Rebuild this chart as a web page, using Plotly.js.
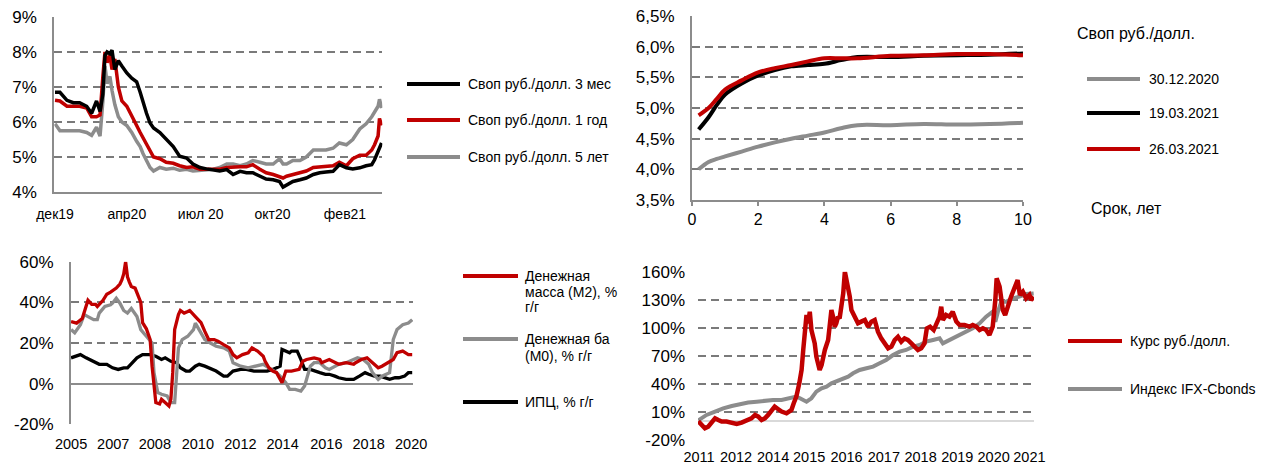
<!DOCTYPE html>
<html><head><meta charset="utf-8">
<script src="https://cdn.plot.ly/plotly-3.0.1.min.js"></script>
<style>html,body{margin:0;padding:0;background:#fff}#chart{width:1267px;height:470px}</style>
</head><body><div id="chart"></div>
<script>
// ---------- Panel 1: swap rates history ----------
const swapDates = ["2019-12-17","2019-12-24","2020-01-03","2020-01-12","2020-01-21","2020-01-31","2020-02-07","2020-02-14","2020-02-19","2020-02-23","2020-02-26","2020-02-29","2020-03-04","2020-03-07","2020-03-11","2020-03-16","2020-03-21","2020-03-28","2020-04-04","2020-04-11","2020-04-16","2020-04-20","2020-04-25","2020-04-30","2020-05-05","2020-05-14","2020-05-23","2020-06-02","2020-06-11","2020-06-21","2020-06-30","2020-07-10","2020-07-19","2020-07-29","2020-08-07","2020-08-17","2020-08-26","2020-09-05","2020-09-14","2020-09-23","2020-10-03","2020-10-12","2020-10-22","2020-10-31","2020-11-05","2020-11-10","2020-11-19","2020-11-29","2020-12-08","2020-12-18","2020-12-27","2021-01-05","2021-01-15","2021-01-24","2021-02-03","2021-02-12","2021-02-22","2021-03-03","2021-03-11","2021-03-15","2021-03-20","2021-03-22","2021-03-25"];
const swap3m = [6.85,6.85,6.62,6.55,6.55,6.45,6.25,6.6,6.3,6.8,7.9,8.0,7.95,8.05,7.5,7.75,7.6,7.4,7.25,7.15,6.85,6.55,6.25,5.97,5.83,5.7,5.5,5.3,5.02,4.97,4.8,4.7,4.66,4.64,4.6,4.64,4.5,4.59,4.55,4.55,4.45,4.37,4.35,4.3,4.14,4.2,4.3,4.35,4.4,4.5,4.55,4.57,4.59,4.78,4.69,4.66,4.69,4.75,4.78,4.92,5.16,5.3,5.4];
const swap1y = [6.62,6.6,6.45,6.45,6.45,6.4,6.15,6.15,6.2,7.3,8.0,7.7,7.9,7.5,7.8,7.0,6.6,6.45,6.2,5.9,5.7,5.55,5.35,5.15,5.0,4.95,4.85,4.82,4.75,4.7,4.72,4.65,4.65,4.64,4.65,4.7,4.72,4.72,4.72,4.78,4.65,4.55,4.5,4.45,4.4,4.45,4.5,4.55,4.6,4.7,4.72,4.72,4.75,4.85,4.75,4.95,5.05,5.05,5.2,5.35,5.6,6.1,5.9];
const swap5y = [5.95,5.75,5.75,5.75,5.75,5.7,5.62,5.85,5.6,6.6,7.6,7.1,7.3,6.9,6.5,6.15,6.0,5.9,5.7,5.45,5.3,5.1,4.9,4.7,4.6,4.7,4.65,4.68,4.62,4.65,4.6,4.62,4.65,4.65,4.7,4.8,4.8,4.75,4.8,4.9,4.85,4.8,4.8,4.95,4.8,4.8,4.9,4.9,5.0,5.2,5.2,5.2,5.25,5.4,5.35,5.5,5.8,5.95,6.15,6.3,6.45,6.65,6.4];
const swapTickDates = ["2019-12-17","2020-03-28","2020-07-11","2020-10-21","2021-02-01"];
const swapTickLabels = ["дек19","апр20","июл 20","окт20","фев21"];
const swapYTicks = [4,5,6,7,8,9];
const swapNames = ["Своп руб./долл. 3 мес","Своп руб./долл. 1 год","Своп руб./долл. 5 лет"];

// ---------- Panel 2: swap curves ----------
const tenors = [0.2,0.5,0.75,1,1.5,2,2.5,3,3.5,4,4.5,5,6,7,8,9,10];
const curve301220 = [4.0,4.12,4.17,4.21,4.29,4.37,4.44,4.5,4.55,4.6,4.67,4.72,4.72,4.74,4.73,4.74,4.76];
const curve190321 = [4.65,4.85,5.05,5.22,5.4,5.53,5.62,5.68,5.7,5.72,5.78,5.83,5.83,5.85,5.86,5.87,5.89];
const curve260321 = [4.88,5.0,5.15,5.3,5.45,5.58,5.65,5.7,5.76,5.81,5.81,5.81,5.85,5.86,5.88,5.88,5.86];
const curveNames = ["30.12.2020","19.03.2021","26.03.2021"];
const curveYTicks = [3.5,4,4.5,5,5.5,6,6.5];
const curveXTicks = [0,2,4,6,8,10];

// ---------- Panel 3: money supply and CPI ----------
const m2Dates = ["2005-01","2005-04","2005-07","2005-09","2005-10","2005-12","2006-02","2006-03","2006-04","2006-06","2006-08","2006-10","2007-01","2007-03","2007-04","2007-05","2007-06","2007-07","2007-08","2007-09","2007-11","2007-12","2008-02","2008-03","2008-05","2008-07","2008-08","2008-10","2008-12","2009-01","2009-03","2009-05","2009-06","2009-07","2009-08","2009-10","2009-11","2010-01","2010-03","2010-04","2010-07","2010-10","2010-12","2011-02","2011-05","2011-07","2011-10","2012-01","2012-03","2012-05","2012-08","2012-11","2013-01","2013-04","2013-07","2013-08","2013-10","2013-12","2014-02","2014-03","2014-05","2014-07","2014-10","2015-02","2015-04","2015-06","2015-10","2016-01","2016-02","2016-06","2016-09","2016-11","2017-03","2017-07","2017-08","2017-11","2018-02","2018-05","2018-08","2018-10","2019-01","2019-04","2019-06","2019-09","2019-12","2020-02"];
const m2Growth = [30.6,29.8,32,38,41,39,39,38,39,41,44,45,47,49,51,54,60,52.6,50,47.8,47,45,40,30,27,21.7,8.6,-9.3,-10,-7.7,-9.3,-11,-7.7,5.4,26.6,34,36,34.7,35.5,36,33,30,25.7,21.7,21.7,20.9,19.2,17.6,14.3,12.7,14.3,15.2,17.6,16,13.5,11,7.8,6.2,5.4,3.7,0.5,6.2,6.2,7,11,11.9,12.7,11.9,10.3,11.9,10.3,9.5,10.3,9.5,10.3,11.9,12.7,10.3,7.8,8.6,10.3,11.9,15.2,16,14.3,14.3];
const m0Dates = ["2005-01","2005-03","2005-06","2005-08","2005-10","2006-01","2006-03","2006-04","2006-07","2006-10","2006-11","2007-01","2007-03","2007-05","2007-07","2007-09","2007-12","2008-02","2008-05","2008-08","2008-09","2008-11","2009-01","2009-04","2009-06","2009-08","2009-10","2009-12","2010-03","2010-06","2010-07","2010-10","2010-12","2011-03","2011-06","2011-10","2012-01","2012-03","2012-07","2012-11","2013-03","2013-07","2013-10","2014-02","2014-04","2014-07","2014-09","2014-12","2015-03","2015-05","2015-08","2015-10","2016-01","2016-04","2016-06","2016-09","2016-11","2017-03","2017-07","2017-09","2017-12","2018-03","2018-05","2018-08","2018-10","2019-02","2019-04","2019-06","2019-09","2019-12","2020-02"];
const m0Growth = [26.6,25,29,34,33,31.5,31.5,34.7,38,38.8,39.6,42,39.6,36,34.7,37,33,26.6,23.3,20,5.4,-4.4,-5.2,-6,-9.3,-9.3,17.6,21.7,23.3,26.6,29.8,25,21.7,20,18.4,17.6,16,10.3,8.6,7.8,8.6,9.5,7.8,5.4,3.7,0.5,-2.8,-2.8,-3.6,-1.1,8.6,10.3,10.3,7.8,7,8.6,9.5,10.3,11.9,12.7,11.9,9.5,5.4,2.1,3.7,5.4,21.7,26.6,29,29.8,31.5];
const cpiDates = ["2005-01","2005-04","2005-06","2005-09","2006-01","2006-04","2006-08","2006-11","2007-02","2007-05","2007-07","2007-10","2007-12","2008-03","2008-07","2008-10","2009-01","2009-03","2009-06","2009-09","2009-11","2010-02","2010-04","2010-07","2010-09","2010-12","2011-02","2011-06","2011-10","2011-12","2012-03","2012-07","2012-10","2013-02","2013-05","2013-09","2013-12","2014-04","2014-05","2014-07","2014-09","2014-10","2015-01","2015-03","2015-05","2015-08","2015-10","2016-01","2016-04","2016-06","2016-09","2016-11","2017-03","2017-07","2017-10","2018-01","2018-03","2018-06","2018-09","2018-11","2019-02","2019-05","2019-07","2019-10","2019-12","2020-02"];
const cpiGrowth = [12.7,13.5,14.3,12.7,11,9.5,9.5,7.8,7,7.8,7.8,11,12.7,14.3,14.3,13.5,11.9,12.7,11,10.3,7.8,6.2,6.2,8.6,9.5,8.6,7.8,6.2,3.7,3.7,6.2,7,7,6.2,6.2,6.2,7,8.6,16.8,16,15.2,16,16,11.9,7,7,6.2,5.4,4.6,4.6,3.7,2.9,2.1,2.1,3.7,5.4,4.6,3.7,3.7,2.9,2.1,2.9,2.9,3.7,5.4,5.4];
const moneyTickDates = ["2005-01-01","2006-11-13","2008-09-15","2010-08-10","2012-06-28","2014-05-10","2016-04-15","2018-02-28","2020-01-15"];
const moneyTickLabels = ["2005","2007","2008","2010","2012","2014","2016","2018","2020"];
const moneyYTicks = [-20,0,20,40,60];

// ---------- Panel 4: RUB/USD vs IFX-Cbonds (cumulative %) ----------
const fxYears = [2011.00,2011.10,2011.20,2011.30,2011.41,2011.51,2011.61,2011.71,2011.86,2012.02,2012.17,2012.32,2012.47,2012.62,2012.73,2012.83,2012.93,2013.03,2013.13,2013.23,2013.33,2013.44,2013.54,2013.69,2013.84,2013.91,2013.99,2014.08,2014.15,2014.20,2014.25,2014.30,2014.35,2014.40,2014.45,2014.50,2014.55,2014.60,2014.65,2014.70,2014.76,2014.81,2014.86,2014.96,2015.01,2015.06,2015.11,2015.16,2015.21,2015.26,2015.31,2015.36,2015.42,2015.47,2015.52,2015.57,2015.62,2015.67,2015.77,2015.87,2015.97,2016.08,2016.18,2016.28,2016.38,2016.48,2016.58,2016.68,2016.79,2016.89,2016.99,2017.09,2017.19,2017.29,2017.39,2017.50,2017.60,2017.70,2017.80,2017.90,2017.97,2018.07,2018.18,2018.28,2018.36,2018.41,2018.46,2018.56,2018.66,2018.76,2018.87,2018.97,2019.12,2019.27,2019.37,2019.48,2019.58,2019.68,2019.78,2019.88,2019.98,2020.06,2020.10,2020.19,2020.24,2020.29,2020.36,2020.44,2020.54,2020.64,2020.74,2020.81,2020.90,2021.00,2021.10,2021.15,2021.23];
const fxChange = [0,-4,-7.5,-5.7,-0.3,3.2,1.4,-0.3,-0.3,-1.4,-2.8,-1.4,1.4,3.2,6.8,5,1.4,3.2,6.8,12.1,15.7,12.9,10.4,8.6,12.1,19.3,26.4,40.6,55,76.3,101.2,113.7,104.8,117.2,97.6,90.5,83.4,69.1,58.5,54.9,60.2,69.1,76.3,87,101.2,119,111.9,101.2,104.8,111.9,110.1,120.8,136.8,160,151.1,144,133.3,119,111.9,104.8,106.6,108.4,101.2,106.6,108.4,95.9,88.7,83.4,78,79.8,87,90.5,85.2,88.7,87,83.4,79.8,76.3,78,83.4,99.4,101.2,97.6,104.8,111.9,122.6,108.4,113.7,111.9,117.2,106.6,103,103,101.2,103,101.2,97.6,99.4,97.6,92.3,101.2,129.7,152.9,144,129.7,119,113.7,124.4,133.3,142.2,151.1,135.1,138.6,131.5,135.1,129.7,133.3];
const bondYears = [2011.00,2011.25,2011.51,2011.76,2012.02,2012.27,2012.52,2012.78,2013.03,2013.28,2013.54,2013.79,2013.99,2014.10,2014.30,2014.45,2014.60,2014.76,2014.91,2015.06,2015.21,2015.42,2015.57,2015.72,2015.92,2016.13,2016.33,2016.53,2016.73,2016.94,2017.14,2017.34,2017.55,2017.75,2017.95,2018.16,2018.36,2018.46,2018.56,2018.76,2018.97,2019.17,2019.37,2019.58,2019.78,2019.98,2020.06,2020.14,2020.24,2020.39,2020.59,2020.79,2021.00,2021.23];
const bondIndex = [1,6.8,10.4,13.9,16.4,18.6,20,21,22.1,22.8,22.8,24.6,26.4,24.6,21,24.6,31.7,35.3,37.1,40.6,42.4,46,47.8,51.3,54.9,56.7,58.5,62,65.6,70.9,74.5,76.3,79.8,81.6,85.2,87,88.7,83.4,85.2,88.7,92.3,95.9,99.4,104.8,111.9,117.2,106.6,117.2,127.9,127.9,131.5,133.3,136.1,136.8];
const fxTickYears = [2011.02,2012.15,2013.28,2014.38,2015.52,2016.66,2017.78,2018.90,2020.01,2021.10];
const fxTickLabels = ["2011","2012","2014","2015","2016","2017","2018","2019","2020","2021"];
const fxYTicks = [-20,10,40,70,100,130,160];

// ---------- styling ----------
const W = 1267, H = 470;
const RED = '#C00000', BLACK = '#000000', GRAY = '#8c8c8c';
const GRID = '#7a7a7a', AXIS = '#8c8c8c';
const FONT = 'Liberation Sans, Arial, sans-serif';
const px = v => v / W, py = v => 1 - v / H;
const pct = (arr, dec) => arr.map(v => v.toFixed(dec).replace('.', ',') + '%');

function ln(x, y, color, width, xa, ya, name, shape) {
  return {x, y, type: 'scatter', mode: 'lines', name, xaxis: xa, yaxis: ya,
    line: {color, width, shape: shape || 'linear'}, hoverinfo: 'skip', showlegend: false};
}

const traces = [
  ln(swapDates, swap5y, GRAY, 3.5, 'x', 'y', swapNames[2]),
  ln(swapDates, swap1y, RED, 3.5, 'x', 'y', swapNames[1]),
  ln(swapDates, swap3m, BLACK, 3.5, 'x', 'y', swapNames[0]),
  ln(tenors, curve301220, GRAY, 4, 'x2', 'y2', curveNames[0], 'spline'),
  ln(tenors, curve190321, BLACK, 4, 'x2', 'y2', curveNames[1], 'spline'),
  ln(tenors, curve260321, RED, 4, 'x2', 'y2', curveNames[2], 'spline'),
  ln(cpiDates, cpiGrowth, BLACK, 3.3, 'x3', 'y3', 'ИПЦ, % г/г'),
  ln(m0Dates, m0Growth, GRAY, 3.3, 'x3', 'y3', 'Денежная база (М0), % г/г'),
  ln(m2Dates, m2Growth, RED, 3.3, 'x3', 'y3', 'Денежная масса (М2), % г/г'),
  ln(bondYears, bondIndex, GRAY, 4, 'x4', 'y4', 'Индекс IFX-Cbonds'),
  ln(fxYears, fxChange, RED, 4.5, 'x4', 'y4', 'Курс руб./долл.')
];

const yBase = {showgrid: true, gridcolor: GRID, griddash: '8px,5px', gridwidth: 2,
  ticks: '', tickmode: 'array', tickfont: {family: FONT, size: 17, color: '#000'},
  fixedrange: true, ticklabelstandoff: 12};
const xFont = (s) => ({family: FONT, size: s, color: '#000'});

const layout = {
  width: W, height: H, margin: {l: 0, r: 0, t: 0, b: 0},
  paper_bgcolor: '#fff', plot_bgcolor: '#fff', showlegend: false,
  font: {family: FONT, color: '#000'},
  xaxis: {domain: [px(54.3), px(382.3)], anchor: 'y', type: 'date', range: ['2019-12-16', '2021-03-26'],
    tickmode: 'array', tickvals: swapTickDates, ticktext: swapTickLabels, showgrid: false, zeroline: false,
    showline: true, linecolor: AXIS, linewidth: 2, ticks: '', tickangle: 0, tickfont: xFont(14), ticklabelstandoff: 8},
  yaxis: Object.assign({}, yBase, {domain: [py(192), py(17)], anchor: 'x', range: [4, 9],
    tickvals: swapYTicks, ticktext: pct(swapYTicks, 0), showline: true, linecolor: AXIS, linewidth: 2, zeroline: false}),
  xaxis2: {domain: [px(692), px(1023)], anchor: 'y2', range: [0, 10], tickmode: 'array', tickvals: curveXTicks,
    ticktext: curveXTicks.map(String),
    showgrid: false, zeroline: false, showline: true, linecolor: AXIS, linewidth: 2, tickangle: 0,
    ticks: 'outside', ticklen: 4, tickwidth: 2, tickcolor: AXIS, tickfont: xFont(16)},
  yaxis2: Object.assign({}, yBase, {domain: [py(200), py(16)], anchor: 'x2', range: [3.5, 6.5],
    tickvals: curveYTicks, ticktext: pct(curveYTicks, 1), showline: true, linecolor: AXIS, linewidth: 2, zeroline: false}),
  xaxis3: {domain: [px(71), px(413)], anchor: 'y3', type: 'date', range: ['2004-12-31', '2020-02-14'],
    tickmode: 'array', tickvals: moneyTickDates, ticktext: moneyTickLabels, showgrid: false, zeroline: false,
    showline: false, ticks: '', tickangle: 0, tickfont: xFont(14.5), ticklabelstandoff: 9},
  yaxis3: Object.assign({}, yBase, {domain: [py(424.3), py(261.7)], anchor: 'x3', range: [-20, 60],
    tickvals: moneyYTicks, ticktext: pct(moneyYTicks, 0), showline: true, linecolor: AXIS, linewidth: 2,
    zeroline: true, zerolinecolor: AXIS, zerolinewidth: 2}),
  xaxis4: {domain: [px(698), px(1034)], anchor: 'y4', range: [2010.99, 2021.24],
    tickmode: 'array', tickvals: fxTickYears, ticktext: fxTickLabels, showgrid: false, zeroline: false,
    showline: false, ticks: '', tickangle: 0, tickfont: xFont(14.5), ticklabelstandoff: 6},
  yaxis4: Object.assign({}, yBase, {domain: [py(440), py(271.7)], anchor: 'x4', range: [-20, 160],
    tickvals: fxYTicks, ticktext: pct(fxYTicks, 0), showline: false,
    zeroline: true, zerolinecolor: '#d9d9d9', zerolinewidth: 2}),
  shapes: [], annotations: []
};

function legendItem(x0, x1, yPix, color, texts, tx, size, dy) {
  layout.shapes.push({type: 'line', xref: 'paper', yref: 'paper', x0: px(x0), x1: px(x1),
    y0: py(yPix), y1: py(yPix), line: {color, width: 4}});
  texts.forEach((t, i) => layout.annotations.push({xref: 'paper', yref: 'paper', x: px(tx), y: py(yPix + i * (dy || 0)),
    xanchor: 'left', yanchor: 'middle', showarrow: false, text: t, font: {family: FONT, size, color: '#000'}}));
}
function label(text, x, y, size) {
  layout.annotations.push({xref: 'paper', yref: 'paper', x: px(x), y: py(y), xanchor: 'left', yanchor: 'middle',
    showarrow: false, text, font: {family: FONT, size, color: '#000'}});
}

// Panel 1 legend
legendItem(407, 460, 84, BLACK, [swapNames[0]], 466, 14);
legendItem(407, 460, 120, RED, [swapNames[1]], 466, 14);
legendItem(407, 460, 157, GRAY, [swapNames[2]], 466, 14);
// Panel 2 legend
label('Своп руб./долл.', 1075, 33, 16);
legendItem(1087, 1140, 79, GRAY, [curveNames[0]], 1147, 14);
legendItem(1087, 1140, 113, BLACK, [curveNames[1]], 1147, 14);
legendItem(1087, 1140, 149, RED, [curveNames[2]], 1147, 14);
label('Срок, лет', 1089, 208, 16);
// Panel 3 legend
legendItem(463, 518, 276, RED, ['Денежная', 'масса (М2), %', 'г/г'], 523, 14, 15.7);
legendItem(463, 518, 339, GRAY, ['Денежная ба', '(М0), % г/г'], 523, 14, 17.4);
legendItem(463, 518, 402, BLACK, ['ИПЦ, % г/г'], 523, 14);
// Panel 4 legend
legendItem(1068, 1122, 341, RED, ['Курс руб./долл.'], 1128, 14);
legendItem(1068, 1122, 389, GRAY, ['Индекс IFX-Cbonds'], 1128, 14);

Plotly.newPlot('chart', traces, layout, {staticPlot: true, displayModeBar: false});
</script>
</body></html>
